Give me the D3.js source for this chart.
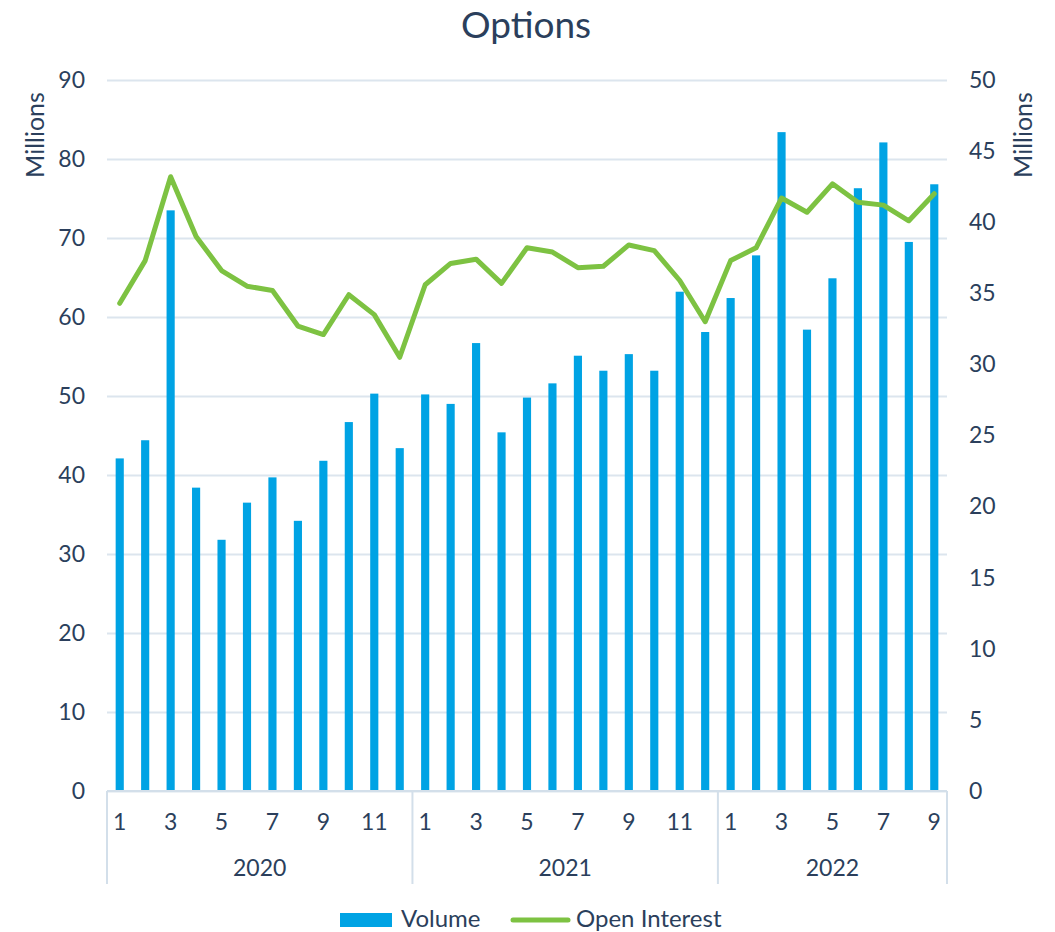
<!DOCTYPE html>
<html>
<head>
<meta charset="utf-8">
<script src="https://cdn.jsdelivr.net/npm/d3@7"></script>
<style>
  body { margin: 0; background: #fff; }
  text { font-family: Lato, "Open Sans", sans-serif; fill: #2b3f5c; }
</style>
</head>
<body>
<div id="chart"></div>
<script>
// data
var years = ["2020", "2021", "2022"];
var monthsPerYear = [12, 12, 9];
var volume = [42.1, 44.4, 73.5, 38.4, 31.8, 36.5, 39.7, 34.2, 41.8, 46.7, 50.3, 43.4,
              50.2, 49.0, 56.7, 45.4, 49.8, 51.6, 55.1, 53.2, 55.3, 53.2, 63.2, 58.1,
              62.4, 67.8, 83.4, 58.4, 64.9, 76.3, 82.1, 69.5, 76.8];
var openInterest = [34.3, 37.3, 43.2, 39.0, 36.6, 35.5, 35.2, 32.7, 32.1, 34.9, 33.5, 30.5,
                    35.6, 37.1, 37.4, 35.7, 38.2, 37.9, 36.8, 36.9, 38.4, 38.0, 35.9, 33.0,
                    37.3, 38.2, 41.7, 40.7, 42.7, 41.4, 41.2, 40.1, 42.0];
var leftTicks = [0, 10, 20, 30, 40, 50, 60, 70, 80, 90];
var rightTicks = [0, 5, 10, 15, 20, 25, 30, 35, 40, 45, 50];

// build category list
var cats = [];
years.forEach(function (y, yi) {
  for (var m = 1; m <= monthsPerYear[yi]; m++) cats.push({ year: y, month: m, key: y + "-" + m });
});

var W = 1055, H = 932;
var margin = { top: 80, right: 108, bottom: 141, left: 107 };
var width = W - margin.left - margin.right,
    height = H - margin.top - margin.bottom;

var svg = d3.select("#chart").append("svg")
  .attr("width", W).attr("height", H);

var xScale = d3.scaleBand().domain(cats.map(function (d) { return d.key; }))
  .range([0, width]).padding(0);
var yLeft = d3.scaleLinear().domain([0, 90]).range([height, 0]);
var yRight = d3.scaleLinear().domain([0, 50]).range([height, 0]);

var g = svg.append("g").attr("transform", "translate(" + margin.left + "," + margin.top + ")");

// gridlines
g.append("g").attr("class", "grid")
  .call(d3.axisLeft(yLeft).tickValues(leftTicks).tickSize(-width).tickFormat(""))
  .call(function (s) {
    s.select(".domain").remove();
    s.selectAll("line").attr("stroke", "#dce5ee").attr("stroke-width", 2);
  });

// left axis labels
g.append("g")
  .call(d3.axisLeft(yLeft).tickValues(leftTicks).tickSize(0).tickPadding(22))
  .call(function (s) {
    s.select(".domain").remove();
    s.selectAll("text").style("font-size", "23px").attr("fill", "#2b3f5c");
  });

// right axis labels
g.append("g").attr("transform", "translate(" + width + ",0)")
  .call(d3.axisRight(yRight).tickValues(rightTicks).tickSize(0).tickPadding(22))
  .call(function (s) {
    s.select(".domain").remove();
    s.selectAll("text").style("font-size", "23px").attr("fill", "#2b3f5c");
  });

// bars
var barW = xScale.bandwidth() * 0.32;
g.append("g").selectAll("rect")
  .data(cats)
  .enter().append("rect")
  .attr("x", function (d) { return xScale(d.key) + xScale.bandwidth() / 2 - barW / 2; })
  .attr("y", function (d, i) { return yLeft(volume[i]); })
  .attr("width", barW)
  .attr("height", function (d, i) { return height - yLeft(volume[i]); })
  .attr("fill", "#00a3e4");

// open interest line
var line = d3.line()
  .x(function (d) { return xScale(d.key) + xScale.bandwidth() / 2; })
  .y(function (d, i) { return yRight(openInterest[i]); });
g.append("path").datum(cats)
  .attr("d", line)
  .attr("fill", "none")
  .attr("stroke", "#7dc242")
  .attr("stroke-width", 5)
  .attr("stroke-linejoin", "round")
  .attr("stroke-linecap", "round");

// category axis: baseline, month labels, year groups
var axisCol = "#d3dfea";
g.append("line").attr("x1", 0).attr("x2", width).attr("y1", height).attr("y2", height)
  .attr("stroke", axisCol).attr("stroke-width", 2);

g.append("g").selectAll("text")
  .data(cats.filter(function (d) { return d.month % 2 === 1; }))
  .enter().append("text")
  .attr("x", function (d) { return xScale(d.key) + xScale.bandwidth() / 2; })
  .attr("y", height + 39)
  .attr("text-anchor", "middle")
  .style("font-size", "23px")
  .text(function (d) { return d.month; });

var start = 0, bounds = [0];
monthsPerYear.forEach(function (n) { start += n; bounds.push(start); });
g.append("g").selectAll("line")
  .data(bounds)
  .enter().append("line")
  .attr("x1", function (b) { return b < cats.length ? xScale(cats[b].key) : width; })
  .attr("x2", function (b) { return b < cats.length ? xScale(cats[b].key) : width; })
  .attr("y1", height).attr("y2", height + 93)
  .attr("stroke", axisCol).attr("stroke-width", 2);

g.append("g").selectAll("text")
  .data(years)
  .enter().append("text")
  .attr("x", function (y, i) {
    var a = xScale(cats[bounds[i]].key);
    var b = bounds[i + 1] < cats.length ? xScale(cats[bounds[i + 1]].key) : width;
    return (a + b) / 2;
  })
  .attr("y", height + 85)
  .attr("text-anchor", "middle")
  .style("font-size", "23px")
  .text(function (y) { return y; });

// axis titles
svg.append("text")
  .attr("transform", "translate(44,135) rotate(-90)")
  .attr("text-anchor", "middle")
  .style("font-size", "25px")
  .text("Millions");
svg.append("text")
  .attr("transform", "translate(1032,135) rotate(-90)")
  .attr("text-anchor", "middle")
  .style("font-size", "25px")
  .text("Millions");

// title
svg.append("text")
  .attr("x", 526).attr("y", 38)
  .attr("text-anchor", "middle")
  .style("font-size", "37px")
  .text("Options");

// legend
var legend = svg.append("g").attr("transform", "translate(0,920)");
legend.append("rect").attr("x", 340).attr("y", -7).attr("width", 52).attr("height", 14).attr("fill", "#00a3e4");
legend.append("text").attr("x", 401).attr("y", 7).style("font-size", "24px").text("Volume");
legend.append("line").attr("x1", 513).attr("x2", 568).attr("y1", 0).attr("y2", 0)
  .attr("stroke", "#7dc242").attr("stroke-width", 5).attr("stroke-linecap", "round");
legend.append("text").attr("x", 576).attr("y", 7).style("font-size", "24px").text("Open Interest");
</script>
</body>
</html>
